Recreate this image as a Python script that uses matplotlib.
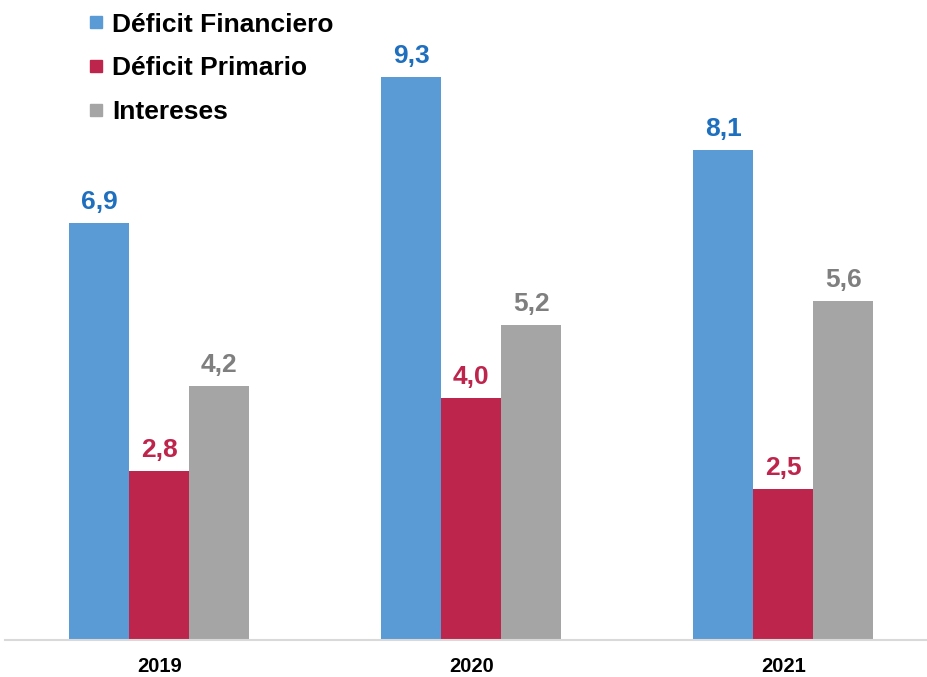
import matplotlib
matplotlib.use("Agg")
import matplotlib.pyplot as plt
from matplotlib.lines import Line2D
import numpy as np

years = ["2019", "2020", "2021"]
financiero = [6.9, 9.3, 8.1]
primario = [2.8, 4.0, 2.5]
intereses = [4.2, 5.2, 5.6]
series_names = ["Déficit Financiero", "Déficit Primario", "Intereses"]

plt.rcParams['font.family'] = ['Liberation Sans', 'DejaVu Sans']

colors = ["#5B9BD5", "#BE254C", "#A5A5A5"]
label_colors = ["#1F6FBF", "#BE254C", "#7F7F7F"]

fig = plt.figure(figsize=(9.28, 6.77), dpi=100)
ax = fig.add_axes([5/928, 37/677, 923/928, 640/677])

x = np.arange(len(years))
w = 0.192
for i, vals in enumerate([financiero, primario, intereses]):
    pos = x + (i - 1) * w
    ax.bar(pos, vals, width=w, color=colors[i], zorder=2)
    for p, v in zip(pos, vals):
        ax.annotate(f"{v:.1f}".replace(".", ","), (p, v), xytext=(0, 6.5),
                    textcoords="offset points", ha="center", va="bottom",
                    fontsize=19, fontweight="bold", color=label_colors[i])

ax.set_xlim(-0.494, 2.464)
ax.set_ylim(0, 10.58)
ax.set_xticks(x)
ax.set_xticklabels(years, fontsize=14.5, fontweight="bold")
ax.tick_params(axis='x', length=0, pad=12)
ax.set_yticks([])
for s in ["top", "right", "left"]:
    ax.spines[s].set_visible(False)
ax.spines["bottom"].set_color("#D9D9D9")
ax.spines["bottom"].set_linewidth(1.5)

handles = [Line2D([], [], marker='s', linestyle='none', markersize=9,
                  markerfacecolor=c, markeredgecolor=c) for c in colors]
leg = fig.legend(handles, series_names, loc="upper left",
                 bbox_to_anchor=(78/928, 1 - 2/677), frameon=False,
                 prop={'size': 19, 'weight': 'bold'}, handlelength=0.6,
                 handletextpad=0.3, labelspacing=0.75, borderaxespad=0)

fig.savefig("out.png", dpi=100)
